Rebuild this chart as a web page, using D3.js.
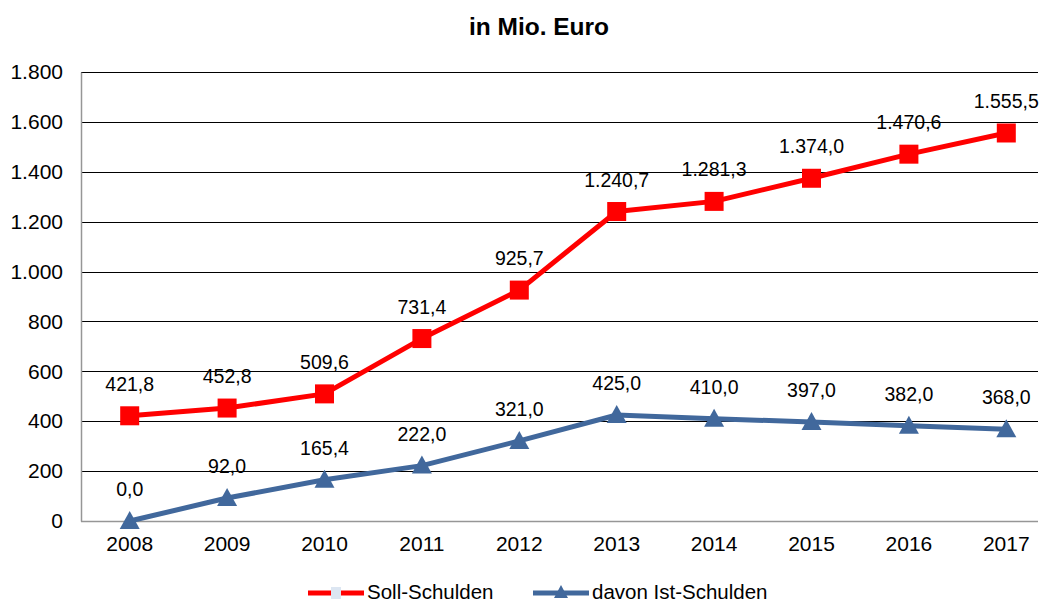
<!DOCTYPE html>
<html><head><meta charset="utf-8">
<script src="https://cdn.jsdelivr.net/npm/d3@7"></script>
<style>body{margin:0;background:#fff}svg{display:block;font-family:"Liberation Sans",Arial,sans-serif}</style>
</head><body><svg id="c" width="1046" height="603"></svg>
<script>
const years = ["2008","2009","2010","2011","2012","2013","2014","2015","2016","2017"];
const sollSchulden = [421.8,452.8,509.6,731.4,925.7,1240.7,1281.3,1374.0,1470.6,1555.5];
const istSchulden = [0.0,92.0,165.4,222.0,321.0,425.0,410.0,397.0,382.0,368.0];
const yTicks = [0,200,400,600,800,1000,1200,1400,1600,1800];
const seriesNames = ["Soll-Schulden","davon Ist-Schulden"];

const loc = d3.formatLocale({decimal:",", thousands:".", grouping:[3], currency:["","€"]});
const fTick = loc.format(",.0f"), fLab = loc.format(",.1f");
const svg = d3.select("#c");
const L=81, R=1055, T=72, B=521, gridR=1038;
const x = d3.scaleBand().domain(years).range([L,R]);
const y = d3.scaleLinear().domain([0,1800]).range([B,T]);
const cx = d => x(d)+x.bandwidth()/2;
const red="#FF0000", blue="#41689C";
const FF = "Liberation Sans, Arial, sans-serif";

svg.append("text").attr("x",539).attr("y",35).attr("text-anchor","middle")
  .attr("font-weight","bold").attr("font-size",24.5).text("in Mio. Euro");

// data labels (under gridlines)
const lab = svg.append("g").attr("font-size",19.5).attr("text-anchor","middle");
[sollSchulden, istSchulden].forEach(arr=>{
  lab.selectAll(null).data(arr).enter().append("text")
    .attr("x",(d,i)=>cx(years[i])).attr("y",d=>y(d)-25).text(d=>fLab(d));
});

// gridlines
svg.append("g").selectAll("line").data(yTicks.filter(d=>d>0)).enter().append("line")
  .attr("x1",L).attr("x2",gridR).attr("y1",d=>Math.round(y(d))+0.5).attr("y2",d=>Math.round(y(d))+0.5)
  .attr("stroke","#000").attr("stroke-width",1);

// y axis
const ya = svg.append("g").attr("transform",`translate(${L},0)`)
  .call(d3.axisLeft(y).tickValues(yTicks).tickFormat(fTick).tickSize(0).tickPadding(18));
ya.select(".domain").attr("stroke","#969696").attr("stroke-width",1.5);
ya.selectAll("text").attr("font-size",21).attr("font-family",FF).attr("fill","#000");

// x axis
const xa = svg.append("g").attr("transform",`translate(0,${B})`)
  .call(d3.axisBottom(x).tickSize(0).tickPadding(15));
xa.select(".domain").attr("stroke","#969696").attr("stroke-width",1.5).attr("d",`M${L},0.5H${gridR}`);
xa.selectAll("text").attr("font-size",21).attr("font-family",FF).attr("fill","#000");

const line = d3.line().x((d,i)=>cx(years[i])).y(d=>y(d));
svg.append("path").datum(sollSchulden).attr("d",line).attr("fill","none").attr("stroke",red).attr("stroke-width",5).attr("stroke-linejoin","round");
svg.append("path").datum(istSchulden).attr("d",line).attr("fill","none").attr("stroke",blue).attr("stroke-width",5).attr("stroke-linejoin","round");

svg.append("g").selectAll("rect").data(sollSchulden).enter().append("rect")
  .attr("x",(d,i)=>cx(years[i])-9.5).attr("y",d=>y(d)-9.5).attr("width",19).attr("height",19).attr("fill",red);
const tri = "M0,-10L10,8L-10,8Z";
svg.append("g").selectAll("path").data(istSchulden).enter().append("path")
  .attr("transform",(d,i)=>`translate(${cx(years[i])},${y(d)})`).attr("d",tri).attr("fill",blue);

// legend
const lg = svg.append("g").attr("font-size",20.5);
lg.append("line").attr("x1",308).attr("x2",364).attr("y1",593).attr("y2",593).attr("stroke",red).attr("stroke-width",5);
lg.append("rect").attr("x",331).attr("y",587).attr("width",10).attr("height",12).attr("fill","#DCE6F2");
lg.append("text").attr("x",367).attr("y",599).text(seriesNames[0]);
lg.append("line").attr("x1",533).attr("x2",589).attr("y1",593).attr("y2",593).attr("stroke",blue).attr("stroke-width",5);
lg.append("path").attr("transform","translate(561,593)").attr("d","M0,-8L7,5L-7,5Z").attr("fill",blue);
lg.append("text").attr("x",592).attr("y",599).text(seriesNames[1]);
</script></body></html>
